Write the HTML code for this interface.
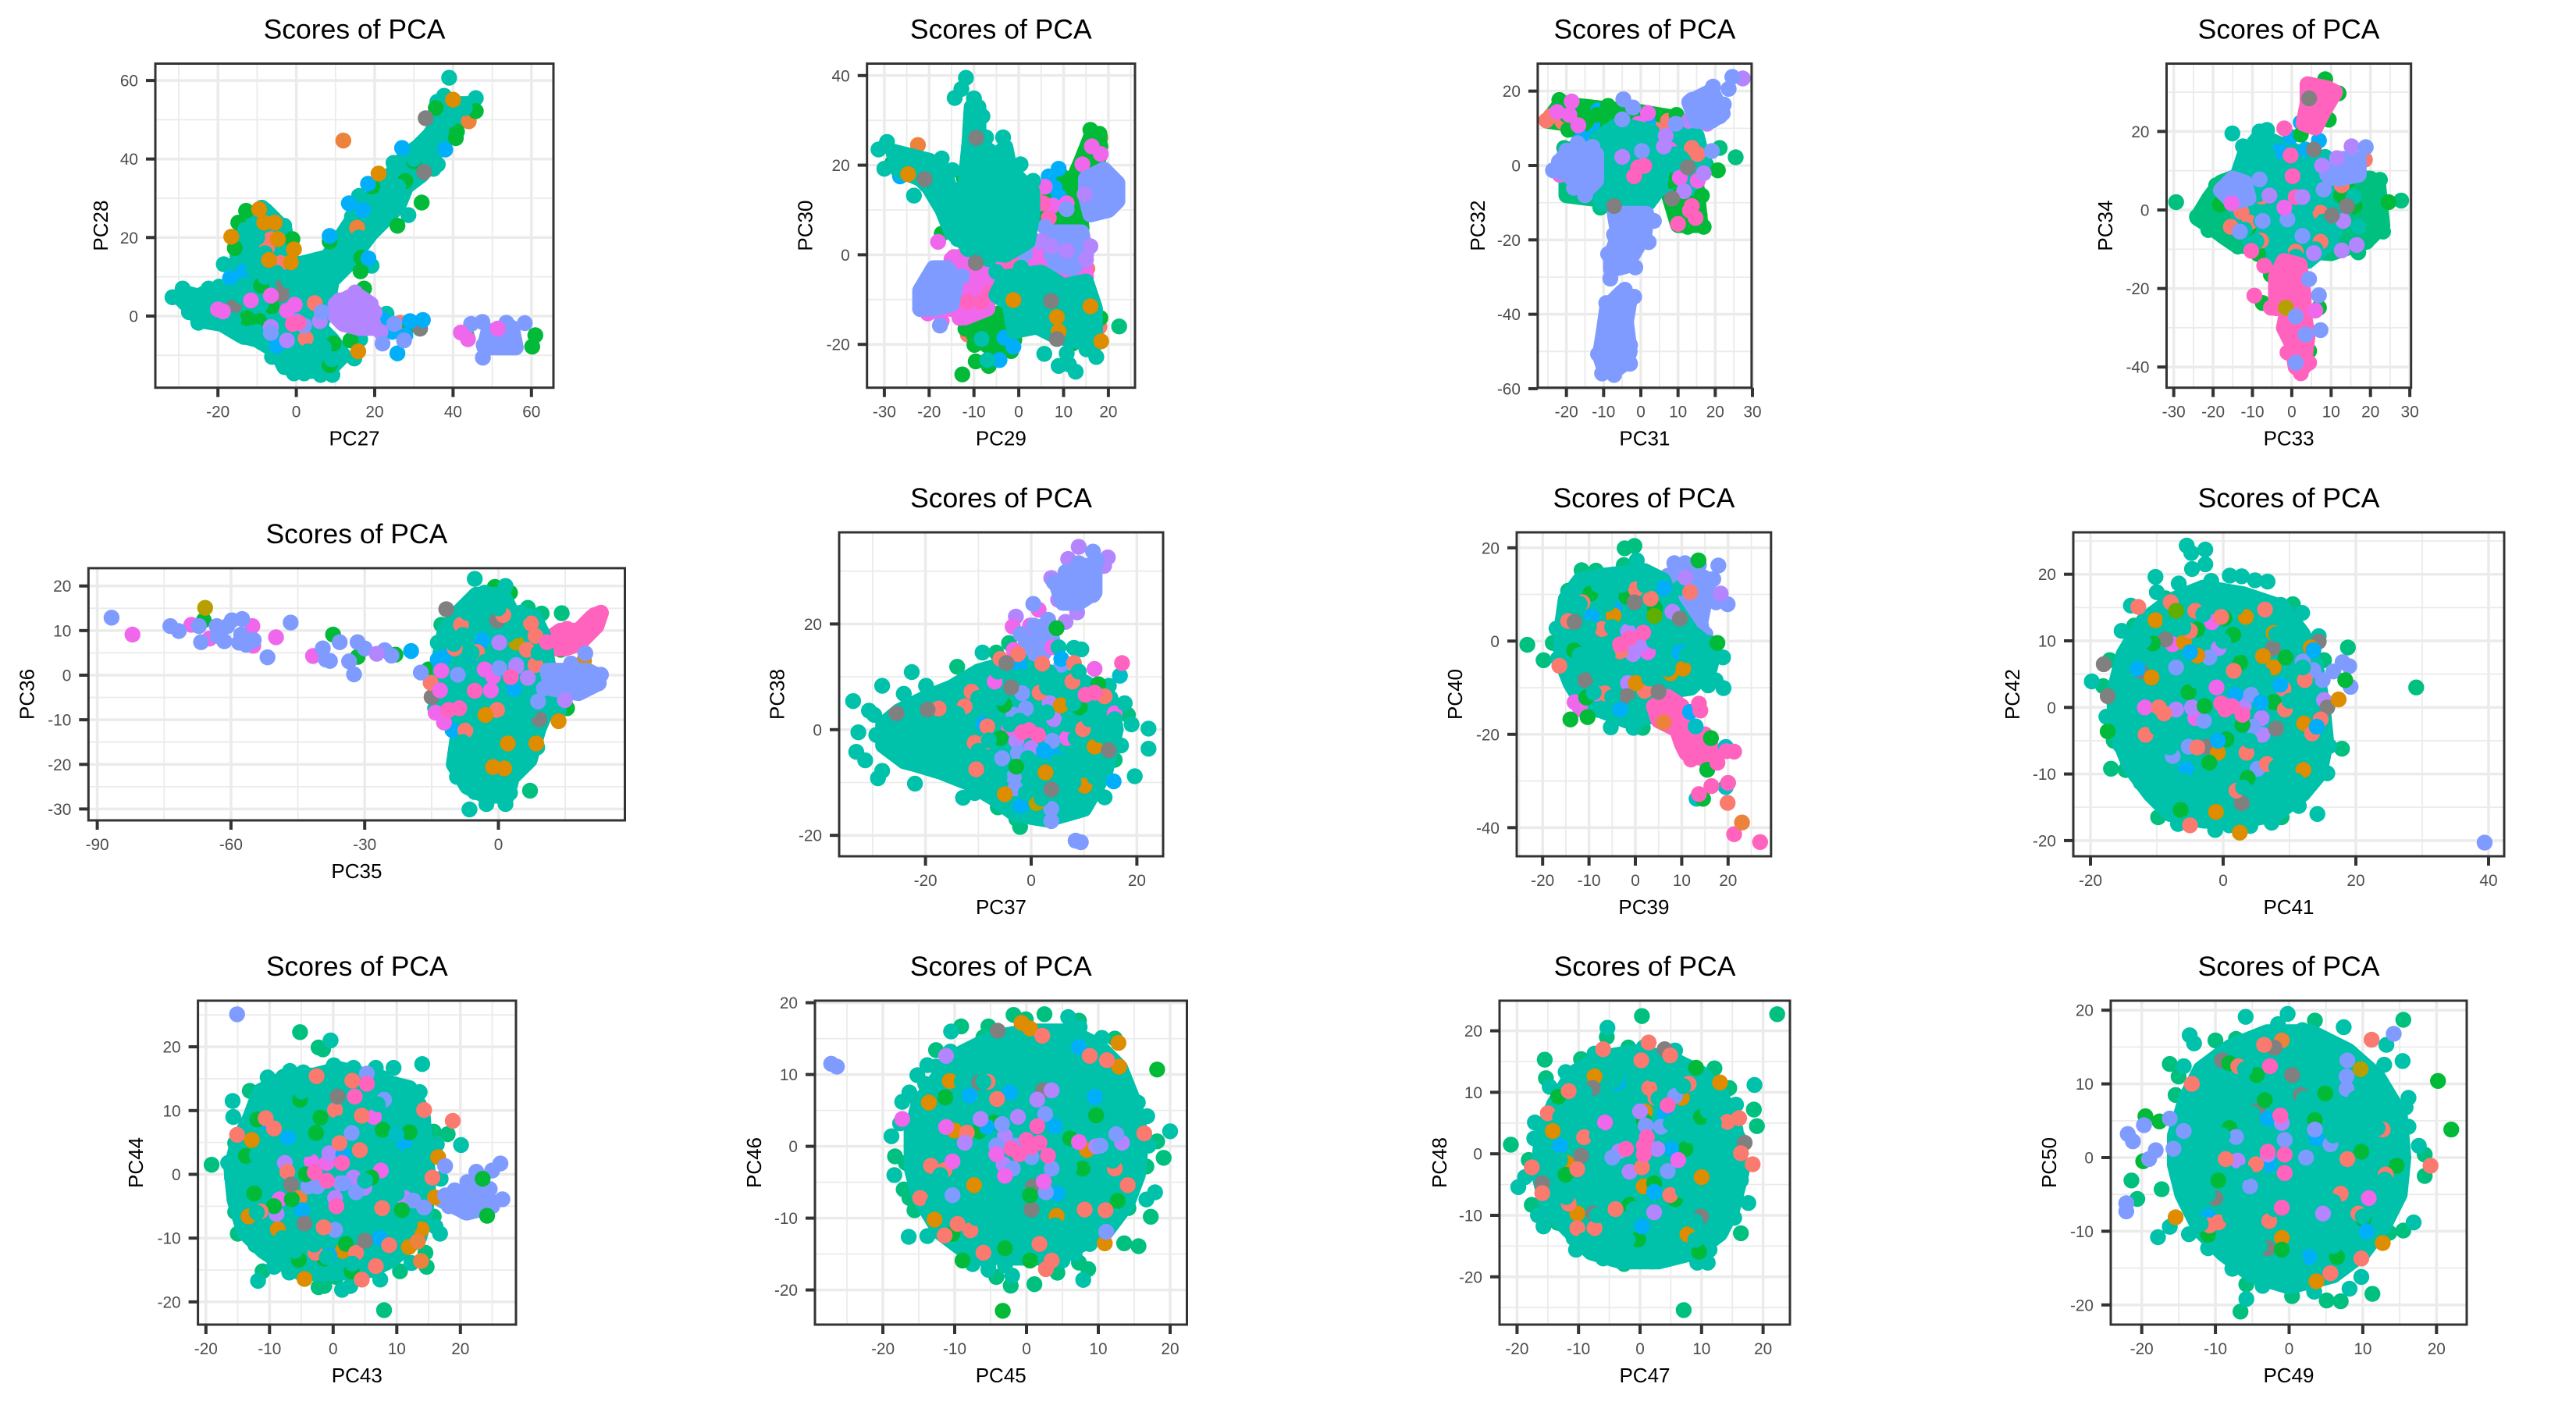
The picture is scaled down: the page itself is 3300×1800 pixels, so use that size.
<!DOCTYPE html>
<html lang="en">
<head>
<meta charset="utf-8">
<title>Scores of PCA panels</title>
<style>
html,body{margin:0;padding:0;background:#fff;}
svg{display:block;font-family:"Liberation Sans",Arial,sans-serif;}
</style>
</head>
<body>
<svg id="chart" xmlns="http://www.w3.org/2000/svg" width="3300" height="1800" viewBox="0 0 3300 1800"></svg>
<script>
const colors={salmon:'#FA7A70',orange:'#DE8C00',coral:'#EC823C',olive:'#B79F00',lime:'#5FAE00',green:'#00BA38',greenteal:'#00C07F',teal:'#00C1A9',cyan:'#00BFC4',blue:'#00AEFA',periwinkle:'#7F9BFF',purple:'#B385FF',magenta:'#EF67EB',pink:'#FF63BE',gray:'#808080'};

/* ---------- PC27 / PC28 ---------- */
const xTicks27=[-20,0,20,40,60];
const yTicks28=[0,20,40,60];
const pc27TealCloud=[[-30,5],[-29,6],[-25,5],[-22,6.5],[-18,7],[-15,10],[-15,18],[-13,24],[-11,26],[-8,27],[-5,24],[-3,22],[-2,15],[0,13],[4,14],[8,15],[10,18],[14,24],[15,27],[18,29],[21,32],[25,37],[28,41],[31,43],[34,46],[38,52],[41,54],[44,54],[44,52],[40,49],[37,44],[34,39],[32,36],[28,33],[26,28],[23,25],[19,21],[16,17],[13,13],[9,9],[8,3],[6,-3],[9,-6],[12,-10],[9,-13],[4,-14],[-3,-13],[-5,-9],[-10,-6],[-14,-5],[-19,-2],[-25,-1],[-26,1.5],[-28,3]];
const pc27PurpleCloud=[[10,3],[14,5],[16,5],[19,3],[19,0],[20,-3],[16,-3],[12,-2],[10,0]];
const pc27PeriCloud=[[49,-4],[55,-3],[56,-8],[48,-8]];
const pc27Teal=[[39,60.7],[28.6,25.7],[19.2,12.8],[-18.5,13.2],[-25,-1.7],[-31.6,4.8],[-29,7],[-27.4,1],[-13.4,-5.3],[23,.6],[16.3,-5.9],[2.7,1.4],[-12,1.7],[-.6,-14.6],[6.2,-15],[9.2,-15],[2,-14.6],[14.8,-10.8],[-6.2,-10.4],[-6.7,17.7],[-4.3,15.8],[16,30.6],[14.2,25.3],[24.8,39],[45.8,55.5],[36,54.6],[37.7,56.1],[35,37.5],[36.1,38.6],[-22.4,7],[-19.7,7.5],[-23.8,3],[-8.8,27.6],[-3.1,23]];
const pc27TealTop=[[-13,22],[-10,20],[-12,16],[-8,16],[-11,12],[-5,11],[-8,10],[-2,9],[3,9],[6,11],[9,13],[12,16],[-13,8],[-17,6],[-4,-1],[-9,3],[3,-9],[7,-8],[-1,-9],[4,-12],[9,-11],[-3,-12],[-14,5],[-20,5],[-16,-1],[-10,-4],[22,26],[26,33],[30,40],[35,45],[39,50],[43,53],[33,42],[16,20]];
const pc27Orange=[[40,55.1],[21,36.3],[-9.5,27.2],[-16.6,20.2],[-4.7,19.6],[-.6,17],[-7,14.3],[-1.4,13.7],[-8.2,23.8],[-5.5,23.8],[15.8,-9]];
const pc27Coral=[[12,44.7],[15.5,22.5],[44,49.6]];
const pc27Blue=[[27,42.8],[38,42.4],[18.3,33.7],[13.4,28.7],[17,27],[8.5,20.4],[18.4,14.7],[-16.9,9.7],[-13.4,11.3],[25.8,-9.5],[27.8,-5],[29,-1.3],[32.3,-1],[24.5,-4],[22,-.8],[-5,-7.6]];
const pc27Green=[[32,28.9],[40.7,45.3],[41,47],[30,39.4],[27.8,34.4],[19.4,33],[25.8,23],[8.5,19],[16.6,14.9],[16.4,11.4],[17.3,7],[-1,19.6],[-14.8,23.8],[-12.8,26.8],[-15.7,17.3],[-9,7.8],[-6.3,2.5],[-9.5,-1.3],[-12.6,-.5],[9.5,-7],[8.5,-12.5],[13.8,-6.2],[61,-4.9],[60.2,-7.8],[50.9,-7],[52.9,-7.6],[43.5,-5.1],[29,-2.4],[35.6,53],[45.8,52.2]];
const pc27Gray=[[33,50.4],[32.6,36.7],[-3.8,5.5],[-16,2.5],[-3.2,8.2],[31.6,-3.2]];
const pc27Magenta=[[-18.7,1.2],[-11.6,4],[-20,1.7],[-6.5,5.2],[42,-4.2],[43.8,-5.9],[51.4,-3.2],[-.4,2.9],[-2.4,1.4]];
const pc27Pink=[[-.9,-2],[.6,-1.7]];
const pc27Salmon=[[2.4,-5.7],[4.7,3.3],[-6.5,19.6],[-7.5,17.3],[-4,13.5],[26.5,-1.7]];
const pc27Purple=[[-6.5,-2.8],[6,-1.3],[-2.4,-6.2],[11,4],[15,6],[20,1],[21.5,-4]];
const pc27Peri=[[22,-7],[25,-2],[27.5,-6.2],[44.6,-2],[47.5,-1.5],[53.6,-1.7],[58.3,-1.8],[47.6,-10.6],[47.8,-7.4],[50.3,-4.3],[6.5,1],[-6.5,-4.3],[0,-1.3],[2,-2.4]];

/* ---------- PC29 / PC30 ---------- */
const xTicks29=[-30,-20,-10,0,10,20];
const yTicks30=[-20,0,20,40];
const pc29TealCloud=[[-28,23],[-24,22],[-20,21],[-17,19],[-15,14],[-12,15],[-11,25],[-10.5,33],[-9,33],[-9,25],[-5,22],[-3,24],[-2,19],[0,17],[3,14],[3,9],[2,3],[-3,0],[-10,1],[-15,5],[-17,10],[-20,15],[-22,17],[-27,19]];
const pc29TealCloud2=[[-3,-5],[5,-4],[10,-7],[15,-6],[17,-12],[17,-20],[12,-19],[8,-18],[4,-16],[-1,-17],[-2,-11],[-5,-9]];
const pc29PeriCloud=[[15,17],[19,19],[22,16],[22,12],[20,10],[16,9],[15,13]];
const pc29PeriCloud2=[[-22,-8],[-19,-3],[-16,-3],[-14,-6],[-15,-11],[-19,-12],[-22,-12]];
const pc29PeriCloud3=[[8,5],[14,5],[15,0],[12,-3],[8,-2]];
const pc29GreenCloud=[[11,14],[14,21],[16,26],[18,27],[18,22],[15,15]];
const pc29GreenCloud2=[[-8,-14],[-4,-13],[-1,-19],[-6,-21],[-10,-18]];
const pc29GreenCloud3=[[5,8],[9,18],[13,15],[14,6],[8,5]];
const pc29MagentaCloud=[[-13,-8],[-7,-7],[-7,-12],[-12,-14]];
const pc29MagentaCloud2=[[-15,-1],[-5,2],[5,3],[14,2],[15,-5],[8,-9],[0,-7],[-8,-4],[-14,-5]];
const pc29TealTop=[[-5,8],[-8,12],[-2,12],[-12,9],[-8,4],[-2,4],[1,8],[-4,16],[-8,19],[3,-9],[7,-9],[10,-12],[12,-15],[14,-17],[9,-11],[-1,-8],[4,-13]];
const pc29Blue=[[6.7,17.5],[8.9,19.2],[8,15],[9,13],[-13.6,13.2],[-18,16.2],[-26.5,17.5],[3.2,-1.5],[-3.2,-18.5],[-4.3,-23.5],[9.8,-1],[7.6,-5],[5,-10.5],[-1.2,-20.5]];
const pc29Green=[[-12.6,-26.7],[-9.6,-23.8],[-6.7,-24.8],[-1.7,-21.5],[-4.6,-20.8],[-9.9,-20.1],[-11.9,-16.5],[-.4,-12.1],[-17.2,4.7],[-12.3,17.2],[-6.7,16.2],[-12.9,-.8],[-15.4,-4.1],[16,27.9],[16.9,25.9],[18.2,24.2],[7.2,14.5],[5,10.2],[9.4,2.5],[11.6,-2.1],[-28.2,20.5],[-20.7,15.9],[18.2,-14.1],[12,-19.8],[15,-8.1],[17.5,18.9]];
const pc29GreenTeal=[[22.4,-16]];
const pc29Magenta=[[-18,2.9],[-14.5,5.9],[-14.5,-.5],[-6.5,.9],[16.3,24.2],[18.3,22.5],[14.2,20.2],[7.6,11],[10.7,11.5],[5.8,15.2],[-16.7,-8.1],[-15,-12.1],[-20.3,-13.1],[-17.2,-14.8],[-13.2,-14.1],[-4.3,-6.1],[-9.2,-5.1]];
const pc29Pink=[[.5,2.2],[-.8,-1.1],[1,.9],[6.7,8.2],[5.4,11.5],[-2,-2],[-11.4,-10.5],[-8.3,-10.5],[-6.5,-8.5]];
const pc29Salmon=[[15.3,-3.1],[14.2,-8.1],[12.9,-11.5],[10.7,-6.5],[-1.5,-4.8],[18,-16.1],[-11.4,-17.8],[5,12.2]];
const pc29Coral=[[-22.5,24.5],[-18,18.9],[-10,-17.8],[18.2,26.2]];
const pc29Orange=[[-24.7,18],[18.4,-19.3],[8.5,-13.9],[8.9,-17.1],[-1.2,-10.1],[16,-11.5]];
const pc29Gray=[[-9.5,26.1],[-21,16.9],[7.2,-10.3],[-9.6,-1.8],[8.5,-18.8]];
const pc29Purple=[[4.5,-7],[4.5,2.9],[7.2,1.9],[10.7,.9],[15,-1.1],[16,1.9],[14.7,13.5]];
const pc29Peri=[[5.8,6.2],[-12.7,-4.8],[-9.6,-1.5],[-17.6,-15.8],[-22,-12.1],[-18,-6.5],[10.7,10.2],[12,-.5],[7.2,.2],[1.4,.2]];
const pc29Teal=[[-11.8,39.5],[-12.8,37],[-14.3,35],[-10,34.9],[-8.1,30.9],[-10.8,28.2],[-3.5,26.2],[-7.3,26.2],[-31.3,23.5],[-29.4,25.2],[-30,19.2],[-23.4,13.2],[-17.2,21.5],[-14.8,18.9],[3.2,16.5],[.4,20.2],[5.7,-22.1],[10.7,-22],[8.9,-24.8],[11.2,-24.5],[12.7,-26.1],[17.3,-22.8],[15.1,-21.1],[-8.3,-18.8],[-7,-23.5],[.5,-2.9],[-6.7,-1],[-5,-3.8],[-11.4,1.3],[-13.6,3.5],[7.2,-15.8]];

/* ---------- PC31 / PC32 ---------- */
const xTicks31=[-20,-10,0,10,20,30];
const yTicks32=[-60,-40,-20,0,20];
const pc31PeriCloud=[[-5,-34],[-3,-36],[-4,-42],[-3,-50],[-4,-53],[-7,-55],[-10,-54],[-11,-51],[-10,-45],[-9,-38]];
const pc31PeriCloud2=[[-7,-13],[1.5,-13],[1,-18],[-1,-22],[-4,-27],[-8,-28],[-8,-24],[-6,-19]];
const pc31PeriCloud3=[[13,17],[19,20],[22,14],[19,12],[15,12]];
const pc31PeriCloud4=[[-21,2],[-17,5],[-12,3],[-12,-4],[-15,-7],[-19,-3]];
const pc31TealCloud=[[-12,7],[-6,11],[3,9],[6,2],[5,-6],[2,-10],[-8,-11],[-11,-9],[-12,0]];
const pc31TealCloud2=[[5,8],[15,8],[17,0],[14,-6],[6,-6]];
const pc31TealTop=[[-6,2],[-9,-3],[-3,-5],[-8,5],[-3,3],[0,-8],[-6,-9],[3,3],[6,1],[9,3],[-2,-2]];
const pc31GreenTealCloud=[[-20,4],[-14,6],[-12,-9],[-20,-8]];
const pc31GreenCloud=[[-22,16],[-17,16],[-8,15],[-4,15],[8,13],[10,11],[9,6],[0,7],[-10,7],[-18,11],[-25,12]];
const pc31GreenCloud2=[[7,-6],[15,-6],[16,-16],[10,-16]];
const pc31Salmon=[[-25.4,12.1],[-24.3,13.2],[-21,11.6],[13.7,4.7],[15.3,3.1],[-1,-6.5],[-5.4,-5.7],[.3,10],[4.1,9.6],[7.3,12],[-11,-5.7],[-.2,-2.1]];
const pc31Green=[[-21.9,17.6],[-16.9,15.6],[-20,13.6],[-19.5,9.6],[-14.7,11.6],[-11.8,13.6],[-8.8,16],[-5.6,15.2],[-8.8,4.7],[-10.4,8],[-17.9,2.7],[20.7,-1.3],[16.4,-8.1],[16.9,-16.5],[12.6,-16.5],[10.5,-7.7],[8.1,-4.1],[9.4,-11.7],[10,-13.7],[15.8,-13.3],[4.1,-5.3],[-4,-18.2],[-6.1,-22.2],[9.6,13.6]];
const pc31GreenTeal=[[-20.6,4.7],[-19.5,-7.3],[-16.6,-8.1],[-10.9,-11.3],[21.2,4.7],[25.5,2.2],[17.5,.3]];
const pc31Blue=[[-11.5,14.8],[-13,11.2],[-16.8,8.8],[-7.2,-27.5],[1.9,11.6],[-13.6,7.1]];
const pc31Magenta=[[-18.6,17.2],[-22.5,14.4],[-19.2,13.6],[-21.8,-2.5],[-16.8,10.8],[-7.9,7.8],[-11.5,7.1],[1.9,14.1],[1.1,-4.9],[10.5,-3.3],[15.3,-4.1],[7.8,4.3],[-.7,11.2]];
const pc31Pink=[[-.7,-.5],[-1.8,-2.9],[.9,-.1],[13.7,-10.9],[14.7,-14.1],[13.2,-12.1],[10,-15.7]];
const pc31Purple=[[6.7,8],[12.8,12],[17.8,11.2],[27.4,23.4],[-5,2.3],[16.9,-2.1],[11.6,-6.9],[6.2,5.1]];
const pc31Peri=[[24.6,23.8],[23.6,20.6],[19.4,21.2],[13.7,17.6],[22.3,16.4],[21.2,13.2],[19.1,3.9],[-4.7,17.8],[-2.1,15.6],[9.4,11.2],[-5,12.4],[-23.6,-1.3],[.3,3.9],[-8.2,-30.4],[-1.5,-27.4],[-8.8,-23.8],[2.1,-20.6],[3.5,-14.9],[-7.2,-18.6],[-1.8,-35.3],[-4.3,-33.4],[-9.3,-37],[-10.4,-55.9],[-7.2,-56.3],[-2.9,-53.3],[-2.9,-48.3],[-11.5,-50.7],[-22,1],[-20,4],[-17,6],[-13,5],[-12,-3],[-15,-8],[-18,-6],[-21,-2]];
const pc31Gray=[[12.6,-.5],[8.4,-8.9],[-7.2,-10.9]];
const pc31Teal=[[-4.7,5.5],[1.4,6.7],[-4.5,9.2],[-10.4,-10.1],[3.2,-1.3],[11,1.9],[7.8,.3],[-4,0]];
const pc31Orange=[[-8.2,-6.9]];

/* ---------- PC33 / PC34 ---------- */
const xTicks33=[-30,-20,-10,0,10,20,30];
const yTicks34=[-40,-20,0,20];
const pc33GreenTealCloud=[[-24,-2],[-21,3],[-18,7],[-10,10],[10,8],[20,8],[22,6],[23,-4],[19,-8],[10,-11],[-14,-9],[-17,-7],[-21,-4]];
const pc33TealCloud=[[-12,14],[-8,19],[-6,18],[3,14],[10,10],[10,-8],[4,-13],[-3,-13],[-10,-9],[-14,0],[-14,8]];
const pc33PinkCloud=[[4,32],[9,31],[11,30],[8,25],[6,21],[3,22],[4,27]];
const pc33PinkCloud2=[[-2,-13],[2,-14],[3,-22],[3,-26],[4,-32],[3,-40],[1,-40],[0,-34],[-2,-30],[-1,-25],[-4,-25],[-4,-17]];
const pc33PeriCloud=[[-18,5],[-15,8],[-12,7],[-11,3],[-15,2]];
const pc33PeriCloud2=[[9,9],[13,13],[17,13],[17,9],[12,8]];
const pc33Pink=[[-1.9,20.8],[-.3,13.9],[.2,8.6],[1,3.3],[-9.5,-21.8],[-5.3,-24.9],[-1.5,-30.2],[-1.1,-36.3],[2.3,-25.6],[3.5,-29.4],[-7,-14.2],[-10.3,-10.4],[4.4,-38.9],[2.3,-41.6]];
const pc33Green=[[8.5,33.3],[11.9,29.7],[7.3,29.9],[6.3,22.7],[9.4,23],[2.3,19.2],[-5.3,-16.5],[-2.8,-18.4],[-2.8,-21.8],[1.4,-21.8],[-7.4,-23.7],[6.9,-24.9],[4.4,-35.9],[-18.3,1.4],[24.6,2],[12.5,3.7],[-11.1,-4.7],[-8.6,-11.2],[14.4,7.5],[16,1]];
const pc33GreenTeal=[[-29.4,2],[27.8,2.4],[22.4,7.7],[23.2,-5.5],[-24.1,-1.7],[-21.2,-5.1],[-19.2,6.3],[16.9,-10.8],[19,-8.1],[-13.7,-9.3]];
const pc33Teal=[[-15.1,19.5],[-8.2,20],[-6.3,20.4],[-12.4,16.2],[8.5,13.5],[2.7,10.5],[-1.9,4.8],[-7.8,-2.8],[11.1,-5.1],[16.9,-4.3],[15.7,3.3],[-2.8,-6.2],[3.9,1],[1,-11.9],[-3.6,-11.9],[-8.6,4]];
const pc33TealTop=[[-10,12],[-6,14],[-8,8],[-3,9],[0,5],[5,8],[-12,-5],[-4,-2],[3,-4],[8,-3],[13,0],[6,-10],[-4,-9],[-9,-8],[-5,5],[-7,16],[-10,16]];
const pc33GreenTealTop=[[17,3],[20,1],[-19,1]];
const pc33Blue=[[2.3,22.3],[-.3,18.6],[6.9,17.7],[-3.2,15],[3.5,15.4]];
const pc33Gray=[[5.6,15.4],[14,1],[10.2,-1.4],[4.4,28.4]];
const pc33Magenta=[[-15.3,1.7],[-1.9,.6],[6,-25.6]];
const pc33Purple=[[15.2,16.2],[7.7,11.3],[11.5,13.2],[-5.7,3.7],[2.7,3.3],[16.5,-8.9],[12.7,-10.3],[13.1,-2.8],[5.6,-11]];
const pc33Peri=[[18.8,16],[8.1,5.2],[9.8,8.1],[-7.4,-2.8],[2.7,-6.6],[-13.2,-5.5],[-8.2,7.8],[4.4,-17.6],[6.9,-21.7],[1,-27.1],[7.3,-30.6],[1,-38.9],[3.5,-31.7],[-1.1,-2.4]];
const pc33Salmon=[[18.6,12.8],[-7.6,3.4],[-10.7,-3.2],[-7.8,-7.8],[1,-10.6],[-2.6,-18],[7.3,-8.1],[7.3,-.7],[-15.5,-4.3],[-12.8,-.5],[12.7,6.3]];
const pc33Olive=[[-1.5,-24.9]];

/* ---------- PC35 / PC36 ---------- */
const xTicks35=[-90,-60,-30,0];
const yTicks36=[-30,-20,-10,0,10,20];
const pc35TealCloud=[[-5,18],[1,18],[3,14],[8,13],[10,9],[11,3],[12,-5],[9,-12],[7,-19],[3,-23],[2,-27],[-3,-27],[-7,-25],[-10,-20],[-9,-13],[-11,-8],[-13,-2],[-13,5],[-12,10],[-9,14]];
const pc35PinkCloud=[[11,8],[14,10],[18,10],[21,13],[23,14],[22,11],[18,7],[15,6],[12,6]];
const pc35PeriCloud=[[11,1],[20,1],[22,0],[22,-2],[18,-4],[12,-3]];
const pc35Peri=[[-86.8,12.9],[-73.6,11],[-71.7,9.9],[-67.2,11],[-66.7,7.4],[-63.2,11],[-63,8.8],[-61.5,7.6],[-59.8,12.3],[-57.5,12.6],[-60.8,11],[-58.2,7.3],[-56.6,6.8],[-54.9,7.9],[-57.7,9.1],[-51.8,4],[-46.6,11.8],[-39.4,6],[-38.7,3.5],[-37.8,3.2],[-35.6,7.4],[-31.6,7.4],[-30,6],[-33.5,3.1],[-32.4,.2],[-25.5,5.6],[-24,4.4],[-17.4,.6],[19.5,4.9],[16.3,2.6],[23,.1],[22.5,-1.8],[18.4,-2.8],[11.6,-.3],[8.9,-5.9],[-9.1,.1],[10.2,-3],[.2,1.6],[4,2.3]];
const pc35Magenta=[[-82.1,9.1],[-68.9,11.3],[-55.2,11],[-55,6.6],[-49.9,8.5],[-41.6,4.3],[-64.8,8.2],[-12.8,1],[-13.1,-3.4],[-14.1,-8.4],[-12.2,-10.6],[-1.2,-.3],[-3.1,1.3],[-1.7,-3.4]];
const pc35Pink=[[-11.2,-7.8],[-8.8,-7.4],[-5.3,-3.5],[2.8,-.4],[10.9,7.4],[15.4,10.4],[21.6,13.5],[16.8,7.9]];
const pc35Purple=[[-27.3,4.8],[.2,7.3],[6.6,-.6],[14.9,-5.6],[4,1.9]];
const pc35Green=[[-66.1,12.3],[-37.1,9.1],[-31.6,4.1],[-23.1,4.6],[-15.7,1.3],[3.5,-7.1],[11.6,8.5],[14,5.7],[-7.4,1],[11.6,1.6],[15.4,-7.4],[-.8,19.8],[2.6,18.5]];
const pc35GreenTeal=[[14.2,13.9],[7.1,-25.9],[-12.8,11.3],[6.6,15.1],[9.7,13.8],[5.4,-19]];
const pc35Blue=[[-19.6,5.4],[-13.6,3.5],[-10.3,-12.3],[-3.6,7.9],[3.5,-3.1],[-6,4.8],[-12.2,4.1]];
const pc35Olive=[[-65.8,15.1],[4,7.3]];
const pc35Gray=[[-11.7,14.8],[-.3,12.3],[-15,-4.9],[9.2,-9.9]];
const pc35Orange=[[-2.9,-8.9],[13.5,-10.3],[2.1,-15.3],[8.5,-15.3],[-1.2,-20.6],[1.3,-20.9],[19.2,3.2]];
const pc35Salmon=[[-4.8,5.2],[-15.2,-1.7],[-.3,-7.8],[8.3,8.8],[6.4,5.7],[1.1,13.5],[-8.4,11.3],[-7.4,-12.4],[-9.8,6],[7.3,11.6],[8.3,2.3]];
const pc35Teal=[[-5.3,21.6],[1.6,20],[-3.1,18.5],[-6.5,-30.1],[-2.7,-28.9],[1.6,-28.9],[2.6,-26.4],[-5.3,-26.2],[-9.3,-22.8],[-9.8,-19.9],[8.7,-16.2],[-14.2,-7.4],[-13.6,7.3],[1.1,5.4],[-9.3,3.5],[1.1,-3.1],[-9.8,-4],[13.5,-8.1],[5.9,-4]];
const pc35TealTop=[[-8,9],[-4,13],[0,15],[4,10],[-9,-3],[-5,-10],[-8,-15],[-3,-18],[2,-18],[5,-13],[1,-11],[-4,-22],[-1,-24],[-6,5],[2,9],[-3,3],[7,-8],[-7,14],[5,14],[-6,-16],[3,-22],[-10,7],[9,5]];

/* ---------- PC37 / PC38 ---------- */
const xTicks37=[-20,0,20];
const yTicks38=[-20,0,20];
const pc37TealCloud=[[-28,1],[-25,3.5],[-20,6],[-15,8],[-10,11],[-3,13],[3,11],[10,9],[15,6],[16,0],[14,-8],[10,-15],[3,-17],[-3,-16],[-7,-13],[-12,-10],[-17,-8],[-22,-6.5],[-24,-6],[-28,-3]];
const pc37PeriCloud=[[5,27],[9,31],[12,31],[12,26],[9,24],[6,24]];
const pc37PeriCloud2=[[-1,18],[3,20],[4,17],[2,14],[-1,15]];
const pc37Teal=[[-33.7,5.4],[-32.7,-.5],[-33.1,-4.2],[-31.4,-5.8],[-29,-9.2],[-28.2,-7.8],[-30.7,3.6],[-29.7,2.8],[-28.2,8.3],[-24.1,6.8],[-22.6,10.9],[-19.9,8.3],[-22,-10.2],[-29.3,-1],[-9.2,14.6],[-12.9,-12.9],[-10.7,-12],[8.1,15.5],[9.5,15.2],[5.2,15.6],[17.7,5],[19,1],[22.2,.2],[22.2,-3.6],[19.6,-8.8],[17,-3],[13.9,-12.8],[9.7,-14.7],[14.7,8.3],[15.8,2],[1.3,-9.2],[-.6,-5.4],[3,3.3],[.2,10.4],[3.5,10.7],[-6.3,11],[-4.2,11.5],[-2,13.2],[-2.2,1.7],[8.4,-1.6],[6.8,-8.1],[-.9,-15.2]];
const pc37TealTop=[[-18,0],[-14,3],[-10,6],[-15,-3],[-10,-4],[-6,6],[-2,10],[3,8],[8,5],[11,2],[13,-1],[11,-6],[8,-10],[5,-6],[-6,-9],[-8,-2],[-12,1],[-20,-3],[-24,1],[-1,-12],[2,-13],[12,-9],[-4,1],[7,1],[9,11]];
const pc37Peri=[[.4,23.8],[11.7,33.7],[12.5,32],[9,31.5],[6.5,29.8],[4.3,27.9],[11.7,25.5],[12,27.5],[9,24.9],[3.2,20.8],[.5,19.7],[-2,18.1],[5.7,12.3],[-1.7,6.9],[-1,4],[-3.3,2.8],[4,-2.1],[-2.5,-4.4],[-5.5,-5.4],[-3.3,-9],[-3,-11.1],[3.8,-15],[3.8,-17.3],[8.4,-21],[9.4,-21.3]];
const pc37Purple=[[9,34.6],[14.5,32.6],[13.8,31],[7,32.3],[3.8,28.7],[11.2,29.3],[8.4,27.7],[5.1,24.6],[7,24.4],[8.7,22.2],[6.5,20.4],[-2.9,21.4],[.5,15.1],[2.1,16.2],[3.5,5],[4.3,2],[-2.8,-2.1],[0,-3.5]];
const pc37Magenta=[[1.4,22.7],[-3.5,19.5],[-.2,19.7],[4,15.6],[-3.3,15.1],[-6.9,9.1],[12,11.5],[15.8,3.1],[-4.2,.3],[6.8,-1.6]];
const pc37Pink=[[17.2,12.6],[10.3,6.6],[12,7],[-.4,-.1],[-1.7,-.5],[1.3,-1]];
const pc37Salmon=[[2.1,12.5],[1.6,7],[7.8,9.1],[9.8,.1],[-10.7,-2.5],[-8.3,-2.2],[-17.5,4],[-10.4,-7.5],[-5.8,13.4],[13.9,6.3],[-2.5,14.3],[-8.3,.6],[8.1,12.6],[-11.3,7.2],[-12.6,4.4]];
const pc37Gray=[[-3.8,8],[-19.6,3.8],[-25.5,3.1],[14.7,-3.9],[3.8,-11.3],[-4.7,12.6]];
const pc37Green=[[4.8,19.2],[12.7,8.6],[-2.8,-7],[-5.1,4.7],[9.2,4.2],[-5.8,-1.6]];
const pc37GreenTeal=[[-14,11.9],[-6.6,14.6],[-4.2,16.4],[18.3,2.8],[15.8,-5.7],[-2.1,-18.4],[-2.8,-16.9],[-6.3,-14.7],[-8.3,-12.2]];
const pc37Blue=[[-2.2,12.3],[5.7,13.4],[15.6,-9.8],[2.4,-4],[-2,-14.4],[-9.1,1.1],[4.6,-5.1]];
const pc37Orange=[[5.6,4.6],[2.7,-8.1],[-5,-12.2],[12,-3.2],[10.1,-10.6]];
const pc37Olive=[[1,-13.9]];
const pc37Cyan=[[16.8,10.2]];

/* ---------- PC39 / PC40 ---------- */
const xTicks39=[-20,-10,0,10,20];
const yTicks40=[-40,-20,0,20];
const pc39TealCloud=[[-16,2],[-15,9],[-12,13],[-7,14],[2,15],[6,13],[8,8],[12,2],[17,-2],[16,-6],[12,-10],[5,-11],[4,-16],[-2,-17],[-7,-15],[-11,-14],[-14,-9],[-16,-4]];
const pc39PeriCloud=[[7,14],[12,15],[16,13],[15,9],[14,4],[15,-1],[11,-1],[8,3],[7,8]];
const pc39PinkCloud=[[4,-14],[7,-12],[10,-14],[11,-17],[10,-20],[15,-20],[17,-24],[17,-26],[14,-25],[11,-24],[10,-22],[9,-19],[5,-17]];
const pc39Pink=[[12,-25.4],[17.7,-26.1],[16.4,-31.1],[20,-30.4],[13.7,-32.8],[21.3,-41.4],[26.9,-43.1],[21.3,-23.7],[19.6,-23.6],[13.7,-13.4],[14,-14.9],[5.1,-14.6],[10.7,-22],[-1.3,.6],[-3.3,-.7],[1.7,1.8]];
const pc39Cyan=[[19.5,-22.7],[19.5,-31.3],[13.2,-33.8],[13,-18.3]];
const pc39Green=[[16.3,-20.8],[15.5,-27.6],[14.6,-33.8],[-9.7,10.2],[-13.2,-2],[-14,-16.8],[-10.3,-16.3],[-10.6,-12.1],[13.6,17.3],[4.2,7.1],[-1.9,9.5],[17.7,-.4]];
const pc39GreenTeal=[[-2.3,19.9],[-.2,20.4],[-23.3,-.8],[-19.8,-4.1],[-17.8,-.4],[1.6,-18.6],[-11.6,15.2],[-8.5,15.1],[-2.5,16.3],[-14.5,10.8],[-15,8]];
const pc39Teal=[[-5.3,-18.5],[-.4,-18.6],[19,-10.1],[17.3,-8.4],[15.7,-9.5],[18.9,-3.5],[15.9,-.4],[-17,2.7],[-16.7,-3.8],[-13.4,-9.7],[.3,17.3],[9.7,11.4],[-5,-.4],[.1,2.4],[6.8,-3.5]];
const pc39TealTop=[[-12,8],[-8,12],[-3,12],[-10,3],[-6,8],[-12,-3],[-8,-7],[-5,-12],[0,-14],[3,-8],[7,-6],[11,-3],[14,-5],[4,0],[-6,-3],[-9,-11],[2,12],[-1,5],[-5,3]];
const pc39Peri=[[17.9,16.2],[19.9,7.9],[17.4,8.3],[8.4,16.7],[10.7,16.7],[13.7,16.3],[16.8,13.3],[-4.4,-4.2],[-1.6,-5.6],[-.5,-2.5],[1.7,4],[-15.9,3],[15.1,1.5],[12.9,-3.2]];
const pc39Purple=[[18.4,10.2],[10.8,13.6],[8,6.3],[-1.6,-9],[-.5,-2.8],[-1.6,2.1],[1.2,-.7]];
const pc39Magenta=[[-13.1,-13.1],[-11.9,-14.6],[-8.4,-11.2],[-.5,-.9],[2.7,-2.4]];
const pc39Salmon=[[-7.2,2.6],[3.3,9.1],[-16.4,-5.3],[2,-10.7],[-11.4,8.3],[-14.5,4.3],[.1,11.1],[11.8,10.5],[-3.3,-2.2],[-6.6,-11.2],[19.9,-34.7]];
const pc39Gray=[[-13.1,4.1],[-.2,8.3],[9.6,4.8],[-10.8,-8.4],[-1.8,-11.8],[5,-10.9]];
const pc39Blue=[[-4.5,6.9],[6.2,11.4],[11.8,-15.2],[-3.3,-14.6],[-9.4,5.2],[9.6,-2.5]];
const pc39Orange=[[10.3,-5.9],[7.6,-6.9],[.1,-9],[-4.7,5.5]];
const pc39Coral=[[23,-38.9],[6.1,-17.4]];
const pc39Lime=[[4.1,5.4]];

/* ---------- PC41 / PC42 ---------- */
const xTicks41=[-20,0,20,40];
const yTicks42=[-20,-10,0,10,20];
const pc41TealCloud=[[-16.5,2],[-15,8],[-12,13],[-8,16],[-3,18],[3,17],[9,15],[12,11],[14,6],[15,0],[15.5,-5],[14.5,-10],[12,-13],[8,-16],[3,-17],[-3,-17],[-8,-16],[-11,-13],[-14,-9],[-16,-4]];
const pc41Teal=[[-5.5,24.3],[-2.7,23.7],[-4.8,23.2],[-2.7,21.5],[-4.7,20.8],[1,19.8],[2.8,19.7],[4.8,19.1],[6.7,18.9],[-10.2,19.6],[-6.7,18.6],[-1.8,19],[-10,17.3],[-13.9,15.3],[8.7,15.4],[11.9,14.2],[-15.3,11.5],[14.4,10.7],[-19.8,3.9],[-17.6,-1.4],[-12.1,10.2],[-15,6],[14.2,-16],[11.4,-14.8],[-1.2,-18.4],[.9,-17.7],[4.1,-17.8],[7.3,-17.3],[-6.8,-17.5],[-4.8,-16.3],[15.7,-9.9],[16,-5.8],[-12.4,-11.3],[-15.5,-5.7],[-1.6,-2],[-6.6,6.2],[.8,-1.1],[6.6,9.3]];
const pc41TealTop=[[-12,10],[-8,13],[-3,14],[2,15],[8,11],[-13,2],[-10,-3],[-6,-11],[-2,-13],[3,-12],[8,-9],[11,-6],[12,6],[4,11],[-4,4],[-13,-7],[-9,-13],[6,-14],[10,-12],[-15,-1],[0,10],[10,1],[4,-5],[-8,-6],[6,5],[-6,12],[11,-11]];
const pc41GreenTeal=[[18.8,9],[29.1,3],[17.9,-6.2],[10.5,15.5],[6.9,15.5],[-9.8,-16.5],[-16.9,-9.2],[-14.7,-9.4],[-16.5,-5],[-13.4,12.3],[-17.1,7.1],[-18.1,3.2],[15.2,7.1],[12.6,-11.5],[8.8,-16.5],[-2.4,-16.7],[-8.7,16.4]];
const pc41Green=[[-17.4,-3.6],[3.7,-10.6],[1.5,10.9],[.2,13.4],[-2.8,.2],[2.9,-2.6],[-10.6,9.6],[-3.9,11.7],[-6.4,-15.4],[-2.1,-8.3],[7.6,.8],[18.4,4.1],[-5.2,2.3],[2.6,6.7],[9.4,7.5],[.5,-4.8]];
const pc41Salmon=[[-12.8,15.1],[-7.9,15.8],[-4.2,14.5],[-.3,13.6],[1.6,5.5],[-9.7,0],[-8.9,-.9],[9.3,-.3],[12.3,4.1],[14.7,-1.8],[13.4,-3.9],[-3.9,-6],[6.6,-8.5],[2,-12.5],[-5,-17.7],[-11.7,-4.1],[3.5,-6.8],[9.1,2.8],[6.3,14.7],[-5,11.5]];
const pc41Orange=[[2.5,-18.8],[17.4,1.2],[13.2,9],[7.6,11.2],[6,7.7],[3.4,13.6],[-10.8,4.5],[-5.9,9.8],[-3.9,7.8],[-10.2,13.1],[-.8,-6.8],[12.2,-2.4],[-1.1,-15.7],[12.1,-9.4],[7.6,6]];
const pc41Gray=[[-18,6.5],[-17.4,1.7],[-8.7,10.2],[-12.4,5.4],[-2.5,-5.9],[2.8,-14.4],[7.5,8.9],[8,-3.2],[14.4,9.9],[15.7,0]];
const pc41Blue=[[-12.9,5.8],[-5,8.3],[8.6,3.4],[5.7,.7],[14.1,-2.9],[-5.6,-9.2],[13.6,8.6],[-.8,-5],[1.8,1.9]];
const pc41Peri=[[39.4,-20.3],[19.2,3.1],[19,6.2],[18,6.8],[16.6,5.4],[13.6,5.6],[15,4.1],[12,6.9],[4.2,1.9],[-7.1,6],[-7.6,-7.3],[-5.2,-5.9],[5.2,-9.2],[-2.1,7.5],[4.5,-2.9],[-2.9,-2]];
const pc41Purple=[[5.9,-4.1],[5.8,-1.6],[3.1,.2],[-4.7,0],[-.7,8.9],[15.2,1.1],[1.8,1.5],[-7.1,-.3]];
const pc41Magenta=[[-7.6,9.5],[-4.2,-1.6],[-1.7,12.8],[-1,3],[-11.8,0]];
const pc41Pink=[[-.3,.6],[.3,-.3],[1.3,.2],[2.9,-1.1]];
const pc41Lime=[[-7.1,14.5]];

/* ---------- PC43 / PC44 ---------- */
const xTicks43=[-20,-10,0,10,20];
const yTicks44=[-20,-10,0,10,20];
const pc43TealCloud=[[-16,1],[-15,5],[-13,9],[-11.5,13],[-7,15.5],[-3,15.5],[1,16.5],[5,15.5],[8,14.5],[12,13.5],[14,10],[14.5,4],[15,-1],[14.5,-6],[13.5,-10],[9,-13.5],[6,-15],[0,-15.5],[-5,-15.5],[-8,-14],[-11,-12],[-14,-9],[-15.5,-4]];
const pc43PeriCloud=[[17,-4],[21,-6],[25,-5],[24,-3],[22,-3],[19,-3]];
const pc43Peri=[[-15.1,25.1],[26.3,1.7],[25,.6],[22.5,.4],[21.1,-1.2],[22.6,-1.2],[26.6,-3.9],[24.6,-2.3],[19.1,-2.5],[17.6,-3.3],[18.2,-5],[20.7,-5.9],[17.6,1.3],[14.3,-5.2],[12.6,-4.1],[-3.9,-1.9],[-2.5,-1.9],[3.6,-2.8],[1.6,-1.4],[.3,-8.7],[2.9,6.5],[8,11.7],[5.3,15.8]];
const pc43GreenTeal=[[-19.1,1.5],[8,-21.3],[-5.2,22.3],[-2.3,19.9],[-1.6,19.6],[-13.1,13.1],[-7.8,15.3],[10.6,13.8],[18,6.3],[15.8,6.7],[14.7,-14.5],[14.5,-12.3],[10.5,-15.2],[-2.3,-17.7],[.5,-16.1],[-11.1,-15.2],[-15,-9.3],[-12.2,-11.1],[-15.4,-5.9],[-15.4,4.9],[15.8,-6.6],[-1.4,-17.5]];
const pc43Green=[[-12.4,-3],[-6.5,-3.9],[-5.2,11.7],[-2.7,6.5],[-2,8.9],[7.8,7],[12,6.6],[10.8,-5.6],[2.9,-15.2],[2,-10.9],[24.2,-6.5],[23.5,-.7],[6,-.5],[-13.7,2.9],[-9.3,-5],[-4.3,0],[-5.4,-13.4],[-1.4,-13.2],[-11.9,8.6]];
const pc43Teal=[[14,17.3],[9.5,16.7],[-.4,21],[6.7,16.7],[7.7,15.1],[20.1,4.6],[16.8,-9.3],[16.1,-8.2],[12.3,-13.9],[7.4,-16.5],[1.4,-18.1],[2.7,-17.5],[-11.8,-16.7],[-9.3,-14.5],[-6.9,-15.4],[-15.8,11.5],[-15.7,9],[-10.3,15.2],[-6.8,16.2],[-4.7,16],[.1,17.1],[3.2,16.7],[13.6,12.9],[16.3,4.7],[16.9,-.7],[-16.5,1.8],[-15.9,-.5],[-9.8,-7.7],[5.3,14.9],[-2.3,1.5],[7.5,1.1],[-2.5,4],[-.1,-.5],[5.1,-12]];
const pc43TealTop=[[-12,3],[-9,11],[-5,13],[0,13],[-7,8],[-4,4],[7,11],[10,9],[12,3],[10,-3],[12,-8],[3,-7],[-3,-11],[-8,-10],[-12,-6],[-14,-1],[6,-8],[9,3],[5,-1],[-10,-2],[1,8],[-1,-13],[3,-14],[-6,-12]];
const pc43Salmon=[[18.8,8.4],[-2.6,15.4],[3,14.7],[-15.1,6.2],[-10.6,8.8],[-9.3,7.2],[-11.4,-5.8],[-1.5,-8.3],[1,4.9],[4.5,9.2],[-7.2,.4],[7.7,-5.3],[6.7,-14.4],[8.8,-11.1],[4.5,-16.5],[3.6,-12.3],[-2.8,-12.3],[14.3,10.1],[.3,10.1],[4.2,3.8],[15.6,-.5]];
const pc43Orange=[[-4.5,-16.4],[16.5,2.7],[16,-3.6],[1.5,-12],[-8.7,-8.6],[13.9,-8.6],[11.9,-11.4],[-12.8,5.4],[-13.3,-6.6]];
const pc43Coral=[[13.3,-10.5],[13.8,-13.6],[-5.3,-3.7]];
const pc43Gray=[[-6.6,-1.6],[.7,12.2],[5,-10.4],[-4.5,-7.7]];
const pc43Pink=[[3.4,12.2],[1.4,1.8],[-1,-1],[-2.9,.3],[.5,-5],[5.3,14.2]];
const pc43Magenta=[[-3.4,2],[-1,1.8],[-8.4,-3.9],[6.4,9],[7.5,.6]];
const pc43Purple=[[-7.6,1.8],[-8.9,-6.2],[3.2,-.5],[1.2,-1.4],[4.9,-2.1],[-.6,3.3],[11.2,-3.7],[.3,-3.7]];
const pc43Blue=[[-10.4,8.1],[1.6,3.1],[-4.9,-5.6],[7.3,-10],[-.6,-12.7],[-7.1,5.8],[11.2,4.9]];
const pc43Cyan=[[9.9,6.3]];

/* ---------- PC45 / PC46 ---------- */
const xTicks45=[-20,-10,0,10,20];
const yTicks46=[-20,-10,0,10,20];
const pc45TealCloud=[[-16,2],[-15,6],[-12,10],[-9,13],[-5,15],[0,16],[6,16],[10,14],[13,11],[15,6],[16,1],[15.5,-4],[14,-8],[11,-12],[7,-14],[2,-15.5],[-3,-15.5],[-8,-15],[-12,-12],[-15,-7],[-16,-3]];
const pc45Peri=[[-27.2,11.5],[-26.4,11.1],[11.1,-11.9],[2.7,-6.4],[3.5,-3.1],[10.3,.1],[-3.4,3.1],[-4.2,.1],[-1.9,-3.1],[.7,-1.5],[-10.3,-6.8],[12.5,1.7],[2.6,4.5],[-1.5,.1]];
const pc45Purple=[[-11.2,12.6],[1.5,6.5],[3.5,7.8],[-3,1.4],[-8.6,.5],[-6.4,3.8],[-1.2,4.1],[-3.2,-2.5],[9.7,0],[13.3,.5]];
const pc45Magenta=[[-4.2,-1.1],[-10.3,-2.1],[-11.2,2.7],[-17.3,3.8],[7.3,.6],[-3,-4.1],[2.4,-4.9]];
const pc45Pink=[[1.5,2.8],[-1,-1.1],[-2.1,-.3],[.7,-.1],[0,.9],[1.8,.5],[3,-1.3]];
const pc45Salmon=[[-14.8,-7.2],[-13.3,-2.7],[-11.4,-3.3],[-11.4,-12.4],[-7.8,-11.7],[-9.6,-10.8],[-5.4,9],[-4.1,6.6],[8.8,12.6],[11.2,12],[16.4,1.8],[14.1,-5.4],[12.3,-3.1],[8.1,-8.8],[11,-8.9],[-6,-14.8],[2.7,-17.1],[3.5,-15.9],[1.8,-13.6],[-8.3,1.9],[2.2,15.4]];
const pc45Orange=[[12.8,14.4],[12.9,11.1],[-.7,17.2],[.5,16.4],[8.4,-.5],[4.2,-9.7],[-7.3,-5.4],[10.9,-13.5],[-10,2.2],[-12.8,-10.2],[-13.6,6.1],[-10.7,9.1]];
const pc45Green=[[18.2,10.7],[-3.3,-22.9],[-8.9,-15.9],[.5,-15.9],[-11.3,6.8],[-6.6,2.1],[6.1,1.1],[12.7,-7.6],[-10.3,-12.2],[7.8,-3.1],[.5,-6.8],[9.7,4.3],[-3,-14.2],[-4.5,3.3]];
const pc45GreenTeal=[[2.5,18.4],[-1.8,18.3],[-9.1,16.7],[-.1,17.7],[7.3,17.5],[12.3,15],[-12.6,13.4],[-6,15.2],[-5.3,16.7],[13.6,-13.5],[15.6,-13.9],[17.3,-9.8],[19.1,-1.6],[18.2,.7],[-18.3,-1.4],[-16.8,-2.3],[-17.1,-6],[-15.6,-8.9],[-16.3,-7.2],[-2.2,-19.4],[1.1,-19.2],[-4.2,-18.2],[8.6,-17.1],[7.3,-16.2],[4.3,-17.6],[16.7,-2.8],[14.2,-8.6]];
const pc45Teal=[[5.8,18],[7.4,16.6],[10.5,15.1],[-10.5,16],[-10.6,13.2],[-13.8,11.3],[-12.6,11.1],[-15.2,9.9],[-14.1,8.7],[-16.3,7.5],[-17.3,6.2],[-15.2,6.5],[-17.6,3.2],[-18.8,1.4],[-18.4,-4],[-15.8,.3],[-16.4,-12.6],[-13.8,-12.5],[20,2.1],[17.9,-6.4],[16.8,4.2],[15.5,6.1],[13.6,8.3],[16.7,-7.4],[17,.1],[7.9,-18.6],[5,-15.9],[3,-15.6],[-2,-18],[-3,-16.6],[-5.3,-16.4],[-5.3,-17.2],[-7.5,-16.4],[6.7,-15],[8.8,-13.6],[13.6,.5],[5.6,-.7],[-9.4,.9],[.9,4.9],[8.2,-2.7]];
const pc45TealTop=[[-13,0],[-10,5],[-6,9],[-1,12],[5,13],[9,10],[12,6],[12,-2],[9,-6],[4,-11],[-2,-9],[-7,-10],[-12,-4],[-8,-3],[-5,-6],[-2,10],[3,10],[-13,-8],[7,4],[-9,9],[6,-3],[-4,13],[-1,-13],[8,-12],[13,3]];
const pc45Blue=[[9.5,6.9],[7.3,13.8],[3.9,2.8],[4.3,-6.6],[-2.3,7.5],[-5.5,2.7],[-7.9,7.1]];
const pc45Gray=[[2.3,7.8],[-4,16.1],[.7,-8.8],[-6.6,8.9],[.9,-5.6]];

/* ---------- PC47 / PC48 ---------- */
const xTicks47=[-20,-10,0,10,20];
const yTicks48=[-20,-10,0,10,20];
const pc47TealCloud=[[-16,3],[-14,8],[-11,13],[-7,15.5],[-1,16.5],[5,15.5],[10,13],[13,10],[15.5,4],[16.5,-3],[15,-9],[13,-13],[9,-16],[3,-17.5],[-3,-17.5],[-8,-16],[-11,-13],[-15,-9],[-16.5,-3]];
const pc47GreenTeal=[[22.3,22.7],[.3,22.4],[7.1,-25.4],[-21,1.5],[16.4,-12.9],[-15.5,15.3],[-15.3,12.3],[-5.4,19],[18.5,7.2],[19,4.5],[14.5,10.7],[12.1,13.9],[-17.6,-8.3],[-13.4,-11.2],[-9.6,15.4],[-1.9,17.3],[-10.2,-15.4],[-2.6,-17.9],[-.6,-17],[3.4,-15.1],[6.2,-16.1],[-18.1,-1]];
const pc47Teal=[[-5.3,20.5],[18.6,11.2],[15.6,8],[-17.1,5.1],[-17.2,2.5],[-19.8,-5.4],[-18.7,-3.8],[-16.6,-10],[-15.7,-11.8],[-10.8,-13.7],[-10.4,-15.6],[-6,-17],[2,-17.5],[9.3,-17.7],[11,-17.7],[11.3,-15.6],[17.6,-8],[15.3,-10.4],[5.7,16.8],[.6,17.3],[-7.4,16.3],[-14.7,10.9],[-12.1,13.3],[15.9,2.7],[16.4,-4.3],[.6,-10.4],[-8.5,2.3],[5.1,.8]];
const pc47TealTop=[[-13,6],[-9,10],[-4,12],[2,13],[7,11],[11,7],[13,0],[12,-7],[9,-11],[4,-14],[-2,-14],[-7,-10],[-12,-7],[-13,-1],[-7,3],[-5,-5],[8,3],[7,-6],[3,9],[-4,7],[-1,-9],[12,5],[-9,-14],[9,-14],[5,5]];
const pc47Green=[[-13.3,9.3],[-12.1,-3.4],[9.6,-15.9],[9.9,6],[.6,5.4],[5.7,-7.4],[2.3,-4.8],[7.4,.8],[9.1,14],[-1.7,-8.3],[-.3,-13.9]];
const pc47Salmon=[[18.3,-1.7],[1.4,18.1],[4.9,16],[7.9,11.4],[16.1,5.8],[14.2,5.2],[-15,6.6],[-17.6,-2.2],[-10.2,-2.5],[-7.4,-12.1],[-10.2,-12.1],[-11.6,-8.1],[1.5,10.7],[2.5,9.1],[.2,15.2],[16.4,.1],[.3,-2.2],[-15.9,-6.4],[-6,17],[4.9,-6.7],[-11.6,10.2],[-4,-9],[-9.1,2.7]];
const pc47Orange=[[13,11.6],[10,-3.8],[7.7,-13.1],[-10.2,-9.7],[.8,6.9],[-14.2,3.7],[.6,-5.3],[6.8,9.1],[-7.4,12.6],[-11.9,-1.5]];
const pc47Gray=[[-9.6,-.3],[-7.6,-9.7],[9.9,-10.2],[17,1.8],[4,17],[-7.7,10.7],[-15.9,-4.8]];
const pc47Blue=[[-3.6,11.6],[.3,-11.8],[2.3,-6.2],[4,6.5],[5.1,.8],[-13,1.3]];
const pc47Pink=[[.6,1.3],[-2.3,.8],[1.1,2.7],[.6,-.1],[4.5,7.9]];
const pc47Magenta=[[-5.7,5.1],[6.2,-1]];
const pc47Peri=[[5.7,9.4],[3.4,4.4],[4.5,-2.8],[-4.5,-.6],[.9,4.6]];
const pc47Purple=[[-1.7,-2.9],[2.3,-9.5],[-3.4,.4],[2.8,.8],[0,6.9]];

/* ---------- PC49 / PC50 ---------- */
const xTicks49=[-20,-10,0,10,20];
const yTicks50=[-20,-10,0,10,20];
const pc49TealCloud=[[-15.5,3],[-14,8],[-12,12],[-8,15],[-3,17],[3,17],[8,14.5],[12,11],[15,6],[15.5,0],[15,-5],[13,-9],[10,-13],[6,-16],[0,-17.5],[-5,-16],[-9,-13],[-12,-10],[-14.5,-5],[-15.5,-1]];
const pc49Peri=[[-21.9,3.2],[-21.2,2.2],[-19.7,4.4],[-19,-.2],[-18.1,1],[-22.1,-6.2],[-22.1,-7.3],[-16.2,5.3],[-14.3,3.6],[-15.7,1.2],[14.2,16.8],[7.9,13.2],[7.8,11],[7.8,9.3],[-7.2,2.8],[-5.3,-3.9],[-.6,2.4],[5.6,1.8],[3.5,3.8],[2.3,0]];
const pc49GreenTeal=[[-6.6,-20.9],[.4,-18.8],[5.1,-19.4],[7,-19.5],[11.3,-18.5],[15.5,18.7],[3.5,18.6],[-16.2,12.7],[-15,11],[-10,15.9],[-21.4,-3.1],[-20.6,-5.6],[15.5,-9.9],[13.6,-10.2],[18.4,-2.5],[18.4,.4],[-5.8,-17.2],[-17.3,-4.3],[-15.4,8.5],[-7.2,16.1]];
const pc49Green=[[20.2,10.4],[22,3.8],[-19.5,5.6],[-17.6,4.9],[-19.8,-.5],[14.6,-1.1],[6.5,-13.5],[10.1,-8.4],[4.9,8.7],[-3.3,7.8],[-4.4,11.2],[-8.1,4],[3.5,5.1],[-8.1,12.8],[9.8,.8],[-11,-10.5],[-1,-12.5],[-9.6,-3.1]];
const pc49Teal=[[-5.9,19.1],[-.2,19.5],[7.4,17.7],[-13.5,16.6],[-12.9,15.5],[-14.3,12.4],[15.4,13.1],[13.2,15.3],[12.9,12.6],[16.2,8.1],[15.8,6.8],[16.2,4.2],[17.6,1.6],[16.9,-8.8],[-17.8,-10.8],[-16.2,-9.4],[-13.6,-10.4],[-5.8,-19.2],[-3.6,-17.4],[3.4,-18.2],[8.2,-17.8],[9.8,-16.2],[-11,-12.3],[-7.7,-15.1],[-1.5,18.1],[1.8,17.3],[-3.4,15.5],[-2.9,11],[-11.9,.4],[1.3,2],[-1.5,-4.3]];
const pc49TealTop=[[-12,3],[-10,9],[-6,12],[-1,13],[4,13],[9,8],[12,4],[13,-3],[10,-8],[6,-12],[1,-14],[-4,-12],[-8,-8],[-11,-5],[-6,-2],[-5,6],[2,8],[6,3],[6,-6],[1,-9],[-9,3],[4,-2],[-2,-7],[12,9],[-12,-9],[3,-11]];
const pc49Salmon=[[19.2,-1.1],[11.2,16],[9.8,-13.7],[5.6,-15.7],[-13.2,10],[-10.8,-9.2],[-9.6,-8.8],[-2.7,-8.6],[7,-4.9],[7.9,-.2],[12.7,3.8],[13.1,-2.3],[-4.5,-.9],[-6.9,12.4],[-8.6,-.2],[-3.4,15.3],[9.4,-7.6]];
const pc49Orange=[[12.7,-11.6],[-15.4,-8.1],[3.7,-16.8],[-1,-10.9]];
const pc49Coral=[[-1,15.9]];
const pc49Gray=[[-4.3,6.4],[-9.1,13.2],[1.6,8.5],[-2.9,-12.3],[.4,11.2],[-2,14.9],[-10,-5.5]];
const pc49Olive=[[9.7,12]];
const pc49Blue=[[10.5,-10],[2.7,-13.5],[-2.7,-.9],[3.7,2.6],[-2.9,5.3],[-11,-8]];
const pc49Pink=[[-.6,.4],[-1.2,5.7],[-2.6,12.4],[-.6,-2.1],[-1,-6.8],[-2.9,.8]];
const pc49Purple=[[-1,4.7],[4.6,-7.6],[-7,-.4],[-2.9,.4]];
const pc49Magenta=[[10.8,-5.5]];

/* Pixel frames of each panel: plot box, pixel of value zero, pixels per unit, y-title position */
const frames=[
 {l:199,r:709,t:81.5,b:496.7,x0:379.6,y0:404.9,kx:5.02,ky:5.03,yt:137.8},
 {l:1110.7,r:1454,t:81.5,b:496.7,x0:1305.1,y0:326.4,kx:5.74,ky:5.74,yt:1040.3},
 {l:1969.9,r:2243.9,t:81.5,b:496.7,x0:2102,y0:212,kx:4.766,ky:4.766,yt:1902},
 {l:2775.5,r:3088.7,t:81.5,b:496.7,x0:2935.9,y0:269,kx:5.04,ky:5.03,yt:2706},
 {l:113.3,r:800.5,t:727.9,b:1051,x0:638.5,y0:865,kx:5.71,ky:5.714,yt:43.4},
 {l:1075,r:1490,t:682,b:1097,x0:1321,y0:934.8,kx:6.77,ky:6.77,yt:1004.4},
 {l:1943,r:2268.8,t:682,b:1097,x0:2095,y0:821.3,kx:5.94,ky:5.975,yt:1873},
 {l:2656,r:3208,t:682,b:1097,x0:2848,y0:906.3,kx:8.5,ky:8.53,yt:2586.8},
 {l:253.6,r:661,t:1282,b:1697,x0:426.8,y0:1504.5,kx:8.15,ky:8.17,yt:182.9},
 {l:1044,r:1520.5,t:1282,b:1697,x0:1315,y0:1468.6,kx:9.2,ky:9.2,yt:974.8},
 {l:1921,r:2293,t:1282,b:1697,x0:2101,y0:1478.2,kx:7.88,ky:7.88,yt:1853},
 {l:2704,r:3160,t:1282,b:1697,x0:2932.5,y0:1483,kx:9.44,ky:9.44,yt:2634}
];

/* Panels reference the arrays above; layers draw in the listed order. c = dense cloud outline, p = individual points */
const panels=[
 {xName:'PC27',yName:'PC28',xTicks:xTicks27,yTicks:yTicks28,layers:[['c',pc27TealCloud,'teal'],['p',pc27Teal,'teal'],['p',pc27Salmon,'salmon'],['p',pc27Coral,'coral'],['p',pc27Green,'green'],['p',pc27Gray,'gray'],['p',pc27Blue,'blue'],['p',pc27TealTop,'teal'],['p',pc27Orange,'orange'],['c',pc27PurpleCloud,'purple'],['p',pc27Purple,'purple'],['c',pc27PeriCloud,'periwinkle'],['p',pc27Peri,'periwinkle'],['p',pc27Magenta,'magenta'],['p',pc27Pink,'pink']]},
 {xName:'PC29',yName:'PC30',xTicks:xTicks29,yTicks:yTicks30,layers:[['p',pc29Salmon,'salmon'],['p',pc29Coral,'coral'],['c',pc29GreenCloud,'green'],['c',pc29GreenCloud2,'green'],['c',pc29GreenCloud3,'green'],['p',pc29Green,'green'],['p',pc29GreenTeal,'greenteal'],['p',pc29Blue,'blue'],['c',pc29MagentaCloud,'magenta'],['c',pc29MagentaCloud2,'magenta'],['p',pc29Magenta,'magenta'],['p',pc29Pink,'pink'],['c',pc29PeriCloud,'periwinkle'],['c',pc29PeriCloud2,'periwinkle'],['c',pc29PeriCloud3,'periwinkle'],['p',pc29Peri,'periwinkle'],['p',pc29Purple,'purple'],['c',pc29TealCloud,'teal'],['c',pc29TealCloud2,'teal'],['p',pc29Teal,'teal'],['p',pc29TealTop,'teal'],['p',pc29Orange,'orange'],['p',pc29Gray,'gray']]},
 {xName:'PC31',yName:'PC32',xTicks:xTicks31,yTicks:yTicks32,layers:[['c',pc31GreenTealCloud,'greenteal'],['p',pc31GreenTeal,'greenteal'],['c',pc31GreenCloud,'green'],['c',pc31GreenCloud2,'green'],['c',pc31TealCloud2,'teal'],['p',pc31Salmon,'salmon'],['p',pc31Orange,'orange'],['p',pc31Blue,'blue'],['p',pc31Green,'green'],['p',pc31Magenta,'magenta'],['c',pc31TealCloud,'teal'],['p',pc31Teal,'teal'],['p',pc31TealTop,'teal'],['p',pc31Purple,'purple'],['c',pc31PeriCloud,'periwinkle'],['c',pc31PeriCloud2,'periwinkle'],['c',pc31PeriCloud3,'periwinkle'],['c',pc31PeriCloud4,'periwinkle'],['p',pc31Peri,'periwinkle'],['p',pc31Pink,'pink'],['p',pc31Gray,'gray']]},
 {xName:'PC33',yName:'PC34',xTicks:xTicks33,yTicks:yTicks34,layers:[['c',pc33GreenTealCloud,'greenteal'],['p',pc33GreenTeal,'greenteal'],['p',pc33GreenTealTop,'greenteal'],['c',pc33TealCloud,'teal'],['p',pc33Blue,'blue'],['p',pc33Green,'green'],['p',pc33Salmon,'salmon'],['p',pc33Teal,'teal'],['p',pc33TealTop,'teal'],['c',pc33PinkCloud,'pink'],['c',pc33PinkCloud2,'pink'],['p',pc33Pink,'pink'],['p',pc33Olive,'olive'],['c',pc33PeriCloud,'periwinkle'],['c',pc33PeriCloud2,'periwinkle'],['p',pc33Purple,'purple'],['p',pc33Peri,'periwinkle'],['p',pc33Magenta,'magenta'],['p',pc33Gray,'gray']]},
 {xName:'PC35',yName:'PC36',xTicks:xTicks35,yTicks:yTicks36,layers:[['p',pc35GreenTeal,'greenteal'],['p',pc35Green,'green'],['c',pc35PinkCloud,'pink'],['c',pc35TealCloud,'teal'],['p',pc35Teal,'teal'],['p',pc35Olive,'olive'],['p',pc35Gray,'gray'],['p',pc35Blue,'blue'],['p',pc35Salmon,'salmon'],['p',pc35TealTop,'teal'],['p',pc35Orange,'orange'],['c',pc35PeriCloud,'periwinkle'],['p',pc35Magenta,'magenta'],['p',pc35Peri,'periwinkle'],['p',pc35Purple,'purple'],['p',pc35Pink,'pink']]},
 {xName:'PC37',yName:'PC38',xTicks:xTicks37,yTicks:yTicks38,layers:[['p',pc37GreenTeal,'greenteal'],['c',pc37TealCloud,'teal'],['p',pc37Purple,'purple'],['c',pc37PeriCloud,'periwinkle'],['c',pc37PeriCloud2,'periwinkle'],['p',pc37Magenta,'magenta'],['p',pc37Peri,'periwinkle'],['p',pc37Teal,'teal'],['p',pc37Olive,'olive'],['p',pc37Orange,'orange'],['p',pc37Blue,'blue'],['p',pc37Green,'green'],['p',pc37Salmon,'salmon'],['p',pc37TealTop,'teal'],['p',pc37Gray,'gray'],['p',pc37Cyan,'cyan'],['p',pc37Pink,'pink']]},
 {xName:'PC39',yName:'PC40',xTicks:xTicks39,yTicks:yTicks40,layers:[['p',pc39GreenTeal,'greenteal'],['c',pc39PeriCloud,'periwinkle'],['p',pc39Peri,'periwinkle'],['c',pc39TealCloud,'teal'],['p',pc39Teal,'teal'],['c',pc39PinkCloud,'pink'],['p',pc39Cyan,'cyan'],['p',pc39Magenta,'magenta'],['p',pc39Purple,'purple'],['p',pc39Green,'green'],['p',pc39Salmon,'salmon'],['p',pc39Gray,'gray'],['p',pc39Blue,'blue'],['p',pc39Orange,'orange'],['p',pc39TealTop,'teal'],['p',pc39Pink,'pink'],['p',pc39Coral,'coral'],['p',pc39Lime,'lime']]},
 {xName:'PC41',yName:'PC42',xTicks:xTicks41,yTicks:yTicks42,layers:[['p',pc41GreenTeal,'greenteal'],['c',pc41TealCloud,'teal'],['p',pc41Teal,'teal'],['p',pc41Magenta,'magenta'],['p',pc41Purple,'purple'],['p',pc41Peri,'periwinkle'],['p',pc41Gray,'gray'],['p',pc41Orange,'orange'],['p',pc41Green,'green'],['p',pc41Salmon,'salmon'],['p',pc41Blue,'blue'],['p',pc41TealTop,'teal'],['p',pc41Lime,'lime'],['p',pc41Pink,'pink']]},
 {xName:'PC43',yName:'PC44',xTicks:xTicks43,yTicks:yTicks44,layers:[['p',pc43GreenTeal,'greenteal'],['c',pc43TealCloud,'teal'],['p',pc43Teal,'teal'],['c',pc43PeriCloud,'periwinkle'],['p',pc43Orange,'orange'],['p',pc43Coral,'coral'],['p',pc43Magenta,'magenta'],['p',pc43Purple,'purple'],['p',pc43Peri,'periwinkle'],['p',pc43Blue,'blue'],['p',pc43Green,'green'],['p',pc43Salmon,'salmon'],['p',pc43TealTop,'teal'],['p',pc43Gray,'gray'],['p',pc43Cyan,'cyan'],['p',pc43Pink,'pink']]},
 {xName:'PC45',yName:'PC46',xTicks:xTicks45,yTicks:yTicks46,layers:[['p',pc45GreenTeal,'greenteal'],['c',pc45TealCloud,'teal'],['p',pc45Teal,'teal'],['p',pc45Orange,'orange'],['p',pc45Gray,'gray'],['p',pc45Green,'green'],['p',pc45Blue,'blue'],['p',pc45Salmon,'salmon'],['p',pc45TealTop,'teal'],['p',pc45Purple,'purple'],['p',pc45Peri,'periwinkle'],['p',pc45Magenta,'magenta'],['p',pc45Pink,'pink']]},
 {xName:'PC47',yName:'PC48',xTicks:xTicks47,yTicks:yTicks48,layers:[['p',pc47GreenTeal,'greenteal'],['c',pc47TealCloud,'teal'],['p',pc47Teal,'teal'],['p',pc47Orange,'orange'],['p',pc47Green,'green'],['p',pc47Gray,'gray'],['p',pc47Blue,'blue'],['p',pc47Purple,'purple'],['p',pc47Peri,'periwinkle'],['p',pc47Magenta,'magenta'],['p',pc47Salmon,'salmon'],['p',pc47TealTop,'teal'],['p',pc47Pink,'pink']]},
 {xName:'PC49',yName:'PC50',xTicks:xTicks49,yTicks:yTicks50,layers:[['p',pc49GreenTeal,'greenteal'],['c',pc49TealCloud,'teal'],['p',pc49Teal,'teal'],['p',pc49Orange,'orange'],['p',pc49Coral,'coral'],['p',pc49Gray,'gray'],['p',pc49Olive,'olive'],['p',pc49Green,'green'],['p',pc49Blue,'blue'],['p',pc49Peri,'periwinkle'],['p',pc49Purple,'purple'],['p',pc49Magenta,'magenta'],['p',pc49Salmon,'salmon'],['p',pc49TealTop,'teal'],['p',pc49Pink,'pink']]}
];

const NS='http://www.w3.org/2000/svg';
const root=document.getElementById('chart');
const POINT_R=10.2;
function node(tag,parent,attrs){
  const el=document.createElementNS(NS,tag);
  for(const k in attrs){el.setAttribute(k,attrs[k]);}
  parent.appendChild(el);
  return el;
}
function minorBreaks(ticks,lo,hi){
  const step=ticks[1]-ticks[0];
  const out=[];
  for(let v=ticks[0]-step/2;v<=ticks[ticks.length-1]+step;v+=step){
    if(v>=lo&&v<=hi){out.push(v);}
  }
  return out;
}
panels.forEach(function(p,i){
  const f=frames[i];
  const sx=function(v){return f.x0+v*f.kx;};
  const sy=function(v){return f.y0-v*f.ky;};
  const cx=(f.l+f.r)/2;
  const cy=(f.t+f.b)/2;

  const g=node('g',root,{});
  
  

  const bg=node('rect',g,{x:f.l,y:f.t,width:f.r-f.l,height:f.b-f.t,fill:'#fff'});
  
  

  const xLo=(f.l-f.x0)/f.kx, xHi=(f.r-f.x0)/f.kx, yLo=(f.y0-f.b)/f.ky, yHi=(f.y0-f.t)/f.ky;
  minorBreaks(p.xTicks,xLo,xHi).forEach(function(v){
    const l=node('line',g,{x1:sx(v),x2:sx(v),y1:f.t,y2:f.b,stroke:'#EBEBEB','stroke-width':1.8});
    
    
  });
  minorBreaks(p.yTicks,yLo,yHi).forEach(function(v){
    const l=node('line',g,{x1:f.l,x2:f.r,y1:sy(v),y2:sy(v),stroke:'#EBEBEB','stroke-width':1.8});
    
    
  });
  p.xTicks.forEach(function(v){
    const l=node('line',g,{x1:sx(v),x2:sx(v),y1:f.t,y2:f.b,stroke:'#EBEBEB','stroke-width':3.5});
    
    
  });
  p.yTicks.forEach(function(v){
    const l=node('line',g,{x1:f.l,x2:f.r,y1:sy(v),y2:sy(v),stroke:'#EBEBEB','stroke-width':3.5});
    
    
  });

  p.layers.forEach(function(layer){
    const fill=colors[layer[2]];
    if(layer[0]==='c'){
      const d=layer[1].map(function(q,j){return (j?'L':'M')+sx(q[0]).toFixed(1)+' '+sy(q[1]).toFixed(1);}).join('')+'Z';
      const cloud=node('path',g,{d:d,fill:fill,stroke:fill,'stroke-width':POINT_R*2,'stroke-linejoin':'round'});
      
      
    }else{
      layer[1].forEach(function(q){
        const c=node('circle',g,{cx:sx(q[0]).toFixed(1),cy:sy(q[1]).toFixed(1),r:POINT_R,fill:fill});
        
        
      });
    }
  });

  const border=node('rect',g,{x:f.l,y:f.t,width:f.r-f.l,height:f.b-f.t,fill:'none',stroke:'#333333','stroke-width':3});
  
  

  p.xTicks.forEach(function(v){
    const t=node('line',g,{x1:sx(v),x2:sx(v),y1:f.b,y2:f.b+12,stroke:'#333333','stroke-width':4});
    
    
    const lab=node('text',g,{x:sx(v),y:f.b+38,'text-anchor':'middle','font-size':20.8,fill:'#4D4D4D'});
    
    
    lab.textContent=String(v);
  });
  p.yTicks.forEach(function(v){
    const t=node('line',g,{x1:f.l-12,x2:f.l,y1:sy(v),y2:sy(v),stroke:'#333333','stroke-width':4});
    
    
    const lab=node('text',g,{x:f.l-22,y:sy(v)+7.5,'text-anchor':'end','font-size':20.8,fill:'#4D4D4D'});
    
    
    lab.textContent=String(v);
  });

  const title=node('text',g,{x:cx,y:f.t-32,'text-anchor':'middle','font-size':35.5,fill:'#000'});
  
  
  title.textContent='Scores of PCA';

  const xt=node('text',g,{x:cx,y:f.b+74,'text-anchor':'middle','font-size':26,fill:'#000'});
  
  
  xt.textContent=p.xName;

  const yt=node('text',g,{x:f.yt,y:cy,'text-anchor':'middle','font-size':26,fill:'#000',transform:'rotate(-90 '+f.yt+' '+cy+')'});
  
  
  yt.textContent=p.yName;
});
</script>
</body>
</html>
